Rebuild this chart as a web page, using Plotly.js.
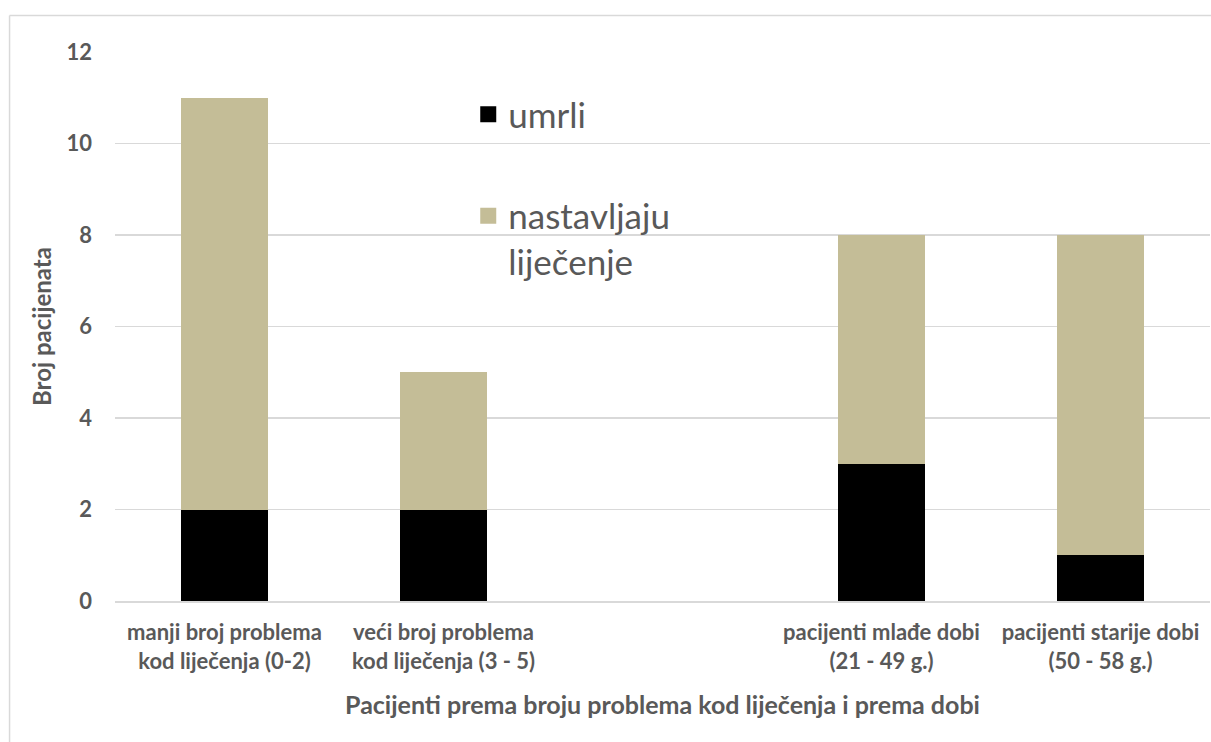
<!DOCTYPE html>
<html>
<head>
<meta charset="utf-8">
<script src="https://cdn.plot.ly/plotly-3.0.1.min.js"></script>
<style>html,body{margin:0;padding:0;background:#fff;}#chart{width:1211px;height:742px;}</style>
</head>
<body>
<div id="chart"></div>
<script>
var categories = [
  "manji broj problema<br>kod liječenja (0-2)",
  "veći broj problema<br>kod liječenja (3 - 5)",
  " ",
  "pacijenti mlađe dobi<br>(21 - 49 g.)",
  "pacijenti starije dobi<br>(50 - 58 g.)"
];
var umrli = [2, 2, null, 3, 1];
var nastavljaju = [9, 3, null, 5, 7];
var seriesNames = ["umrli", "nastavljaju<br>liječenje"];
var seriesColors = ["#000000", "#C4BD97"];

var txt = "#595959";
var fontFam = "Lato, 'Open Sans', sans-serif";

var traces = [
  {type: "bar", x: categories, y: umrli, name: seriesNames[0], marker: {color: seriesColors[0]}, showlegend: false, hoverinfo: "y"},
  {type: "bar", x: categories, y: nastavljaju, name: seriesNames[1], marker: {color: seriesColors[1]}, showlegend: false, hoverinfo: "y"},
  // legend-only entries with larger square swatches
  {type: "scatter", mode: "markers", x: [null], y: [null], name: seriesNames[0], legendgroup: "a",
   marker: {symbol: "square", size: 20, color: seriesColors[0]}, hoverinfo: "skip"},
  {type: "scatter", mode: "markers", x: [null], y: [null], name: seriesNames[1], legendgroup: "b",
   marker: {symbol: "square", size: 20, color: seriesColors[1]}, hoverinfo: "skip"}
];

var layout = {
  width: 1211, height: 742,
  margin: {l: 115, r: 1, t: 52, b: 141, pad: 0},
  barmode: "stack",
  bargap: 0.6,
  paper_bgcolor: "#ffffff",
  plot_bgcolor: "#ffffff",
  font: {family: fontFam, color: txt},
  xaxis: {
    type: "category",
    categoryorder: "array",
    categoryarray: categories,
    tickfont: {size: 22, color: txt, family: fontFam, weight: "bold"},
    showline: true, linecolor: "#D9D9D9", linewidth: 1.5,
    ticks: "", showgrid: false, ticklabelstandoff: 11,
    title: {text: "Pacijenti prema broju problema kod liječenja i prema dobi", font: {size: 25, color: txt, family: fontFam, weight: "bold"}, standoff: 24},
    automargin: false
  },
  yaxis: {
    range: [0, 12],
    tickvals: [0, 2, 4, 6, 8, 10, 12],
    tickfont: {size: 22, color: txt, family: fontFam, weight: "bold"},
    showgrid: true, gridcolor: "#D9D9D9", gridwidth: 1.5,
    zeroline: false, showline: false, ticks: "", ticklabelstandoff: 22,
    title: {text: "Broj pacijenata", font: {size: 24, color: txt, family: fontFam, weight: "bold"}, standoff: 8},
    automargin: false
  },
  legend: {
    x: 0.3226, y: 0.94, xanchor: "left", yanchor: "top",
    font: {size: 35, color: txt, family: fontFam},
    bgcolor: "rgba(0,0,0,0)",
    traceorder: "grouped",
    tracegroupgap: 53,
    valign: "top",
    itemwidth: 30
  },
  showlegend: true,
  shapes: [
    {type: "line", xref: "paper", yref: "paper", x0: -0.0963, x1: -0.0963, y0: -0.3, y1: 1.0665, line: {color: "#D9D9D9", width: 1.5}},
    {type: "line", xref: "paper", yref: "paper", x0: -0.0963, x1: 1.02, y0: 1.0665, y1: 1.0665, line: {color: "#D9D9D9", width: 1.5}}
  ]
};

Plotly.newPlot("chart", traces, layout, {displayModeBar: false, staticPlot: true});
</script>
</body>
</html>
